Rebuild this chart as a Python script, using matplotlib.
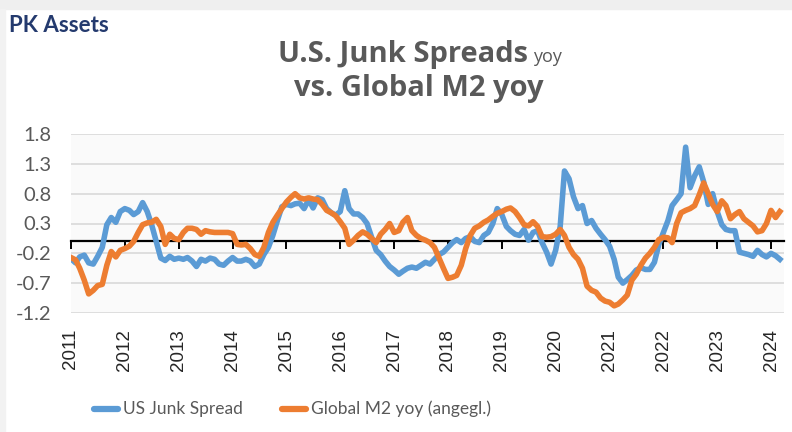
import matplotlib
matplotlib.use('Agg')
import matplotlib.pyplot as plt
import matplotlib.transforms as mtransforms
from matplotlib.lines import Line2D
from matplotlib.patches import Rectangle
import pandas as pd

# %% Data (monthly)
start_month = '2011-01-01'

junk_spread = [
    -0.29, -0.36, -0.26, -0.23, -0.36, -0.38, -0.25, -0.10, 0.28, 0.40, 0.32, 0.50,   # 2011
    0.55, 0.52, 0.45, 0.50, 0.65, 0.50, 0.28, 0.00, -0.28, -0.32, -0.25, -0.30,      # 2012
    -0.28, -0.30, -0.27, -0.33, -0.42, -0.30, -0.33, -0.28, -0.30, -0.38, -0.40, -0.33,  # 2013
    -0.27, -0.33, -0.33, -0.30, -0.33, -0.42, -0.38, -0.22, -0.10, 0.10, 0.35, 0.58,  # 2014
    0.62, 0.60, 0.63, 0.64, 0.55, 0.70, 0.56, 0.73, 0.70, 0.55, 0.48, 0.44,          # 2015
    0.50, 0.85, 0.55, 0.46, 0.46, 0.40, 0.30, 0.07, -0.15, -0.22, -0.33, -0.42,      # 2016
    -0.48, -0.55, -0.50, -0.45, -0.43, -0.45, -0.40, -0.35, -0.38, -0.30, -0.22, -0.18,  # 2017
    -0.10, -0.02, 0.03, -0.02, 0.05, 0.08, 0.00, -0.02, 0.10, 0.15, 0.30, 0.55,      # 2018
    0.45, 0.25, 0.18, 0.12, 0.10, 0.20, 0.02, 0.15, 0.18, -0.02, -0.18, -0.38,       # 2019
    -0.15, 0.25, 1.18, 1.05, 0.75, 0.55, 0.60, 0.30, 0.35, 0.22, 0.12, 0.03,         # 2020
    -0.08, -0.30, -0.60, -0.70, -0.64, -0.57, -0.48, -0.44, -0.47, -0.47, -0.35, -0.05,  # 2021
    0.15, 0.35, 0.60, 0.70, 0.80, 1.58, 0.90, 1.10, 1.25, 1.00, 0.62, 0.80,          # 2022
    0.50, 0.28, 0.20, 0.18, 0.18, -0.18, -0.20, -0.22, -0.25, -0.15, -0.22, -0.26,   # 2023
    -0.20, -0.24, -0.30,                                                             # 2024
]

global_m2 = [
    -0.27, -0.31, -0.45, -0.65, -0.88, -0.82, -0.74, -0.72, -0.40, -0.17, -0.26, -0.15,  # 2011
    -0.12, -0.08, 0.00, 0.15, 0.28, 0.31, 0.32, 0.37, 0.25, -0.05, 0.12, 0.05,       # 2012
    0.03, 0.15, 0.22, 0.22, 0.20, 0.12, 0.18, 0.16, 0.15, 0.15, 0.15, 0.15,          # 2013
    0.13, -0.05, -0.06, -0.05, -0.12, -0.22, -0.25, -0.10, 0.15, 0.32, 0.44, 0.55,   # 2014
    0.66, 0.74, 0.80, 0.73, 0.71, 0.73, 0.71, 0.70, 0.62, 0.52, 0.48, 0.43,          # 2015
    0.33, 0.22, -0.05, 0.02, 0.10, 0.16, 0.12, 0.05, -0.02, 0.12, 0.20, 0.30,        # 2016
    0.15, 0.18, 0.32, 0.40, 0.18, 0.10, 0.05, 0.02, -0.02, -0.10, -0.28, -0.45,      # 2017
    -0.62, -0.60, -0.57, -0.40, -0.12, 0.10, 0.22, 0.26, 0.32, 0.36, 0.42, 0.47,     # 2018
    0.50, 0.54, 0.56, 0.50, 0.40, 0.28, 0.26, 0.33, 0.25, 0.08, 0.07, 0.08,          # 2019
    0.12, 0.20, 0.10, -0.10, -0.22, -0.30, -0.45, -0.75, -0.82, -0.85, -0.95, -1.00, # 2020
    -1.02, -1.08, -1.05, -0.98, -0.90, -0.65, -0.55, -0.40, -0.28, -0.20, -0.10, 0.03,  # 2021
    0.07, 0.06, -0.02, 0.30, 0.48, 0.52, 0.55, 0.60, 0.78, 0.98, 0.80, 0.62,         # 2022
    0.50, 0.68, 0.60, 0.38, 0.45, 0.50, 0.38, 0.32, 0.26, 0.16, 0.18, 0.30,          # 2023
    0.52, 0.40, 0.50,                                                                # 2024
]

y_ticks = [-1.2, -0.7, -0.2, 0.3, 0.8, 1.3, 1.8]
year_labels = [str(y) for y in range(2011, 2025)]
series_names = ['US Junk Spread', 'Global M2 yoy (angegl.)']

BLUE = '#5b9bd5'
ORANGE = '#ed7d31'
GRAY_TXT = '#595959'
W, H = 792, 432

dates = pd.date_range(start_month, periods=len(junk_spread), freq='MS')

# %% Figure
fig = plt.figure(figsize=(W / 100, H / 100), dpi=100)
fig.patch.set_facecolor('white')
# light frame strips like the screenshot
fig.patches.append(Rectangle((0, 1 - 9 / H), 1, 9 / H, transform=fig.transFigure,
                             color='#efefef', zorder=0))
fig.patches.append(Rectangle((0, 0), 5 / W, 1 - 9 / H, transform=fig.transFigure,
                             color='#f2f2f2', zorder=0))

ax = fig.add_axes([71 / W, (H - 313) / H, 713 / W, 179 / H])
ax.set_facecolor('#fafafa')

ax.plot(dates, junk_spread, color=BLUE, lw=4.0, solid_joinstyle='round', zorder=3)
ax.plot(dates, global_m2, color=ORANGE, lw=4.0, solid_joinstyle='round', zorder=4)

ax.set_ylim(-1.2, 1.8)
ax.set_xlim(pd.Timestamp('2011-01-01'), pd.Timestamp('2024-03-29'))
ax.set_yticks(y_ticks)
ax.set_yticklabels([f'{v:.1f}' for v in y_ticks])
ax.yaxis.grid(True, color='#d9d9d9', lw=1.2)
ax.set_axisbelow(True)
ax.tick_params(axis='y', length=0, pad=14, labelsize=14.5, labelcolor=GRAY_TXT)
for lab in ax.get_yticklabels():
    lab.set_fontfamily('Lato')

for s in ['top', 'right', 'left']:
    ax.spines[s].set_visible(False)
ax.spines['bottom'].set_position(('data', 0))
ax.spines['bottom'].set_linewidth(1.6)
ax.spines['bottom'].set_zorder(2)
year_pos = [pd.Timestamp(f'{y}-01-01') for y in year_labels]
ax.set_xticks(year_pos)
ax.tick_params(axis='x', direction='out', length=6, width=1.4, color='black',
               labelbottom=False)

trans = mtransforms.blended_transform_factory(ax.transData, ax.transAxes)
for pos, lab in zip(year_pos, year_labels):
    ax.text(pos, -0.09, lab, transform=trans, rotation=90, ha='center', va='top',
            fontsize=13.5, color='#262626', family='Liberation Sans')

# titles
fig.text(9 / W, 1 - 32 / H, 'PK Assets', fontsize=16, fontweight='bold',
         color='#243a6e', family='Lato', va='baseline', ha='left')

renderer = fig.canvas.get_renderer()
t_main = fig.text(0, 1 - 62 / H, 'U.S. Junk Spreads', fontsize=21, fontweight='bold',
                  color=GRAY_TXT, family='Open Sans', va='baseline', ha='left')
t_yoy = fig.text(0, 1 - 62 / H, 'yoy', fontsize=13, color=GRAY_TXT,
                 family='Open Sans', va='baseline', ha='left')
w_main = t_main.get_window_extent(renderer).width
w_yoy = t_yoy.get_window_extent(renderer).width
gap = 5
x0 = 420 - (w_main + gap + w_yoy) / 2
t_main.set_x(x0 / W)
t_yoy.set_x((x0 + w_main + gap) / W)
fig.text(419 / W, 1 - 96 / H, 'vs. Global M2 yoy', fontsize=21, fontweight='bold',
         color=GRAY_TXT, family='Open Sans', va='baseline', ha='center')

# legend, laid out like the original (handle + text per series)
legend_y = 1 - 409 / H
for (x_start, color, name) in [(92, BLUE, series_names[0]), (280, ORANGE, series_names[1])]:
    fig.add_artist(Line2D([(x_start + 2) / W, (x_start + 26) / W], [legend_y, legend_y],
                          transform=fig.transFigure, color=color, lw=4.5,
                          solid_capstyle='round'))
    fig.text((x_start + 31) / W, legend_y, name, fontsize=12.5, color=GRAY_TXT,
             family='Lato', va='center', ha='left')

fig.savefig('out.png', dpi=100, facecolor=fig.get_facecolor())
